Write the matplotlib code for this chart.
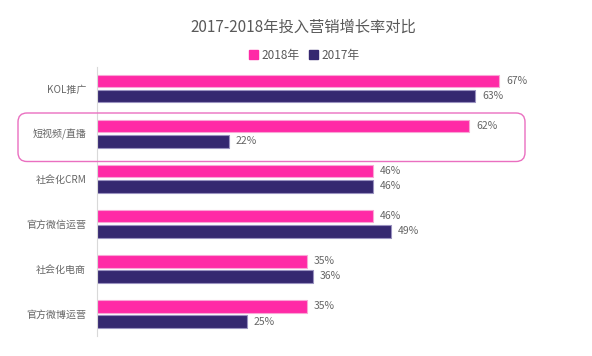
import matplotlib
matplotlib.use("Agg")
import matplotlib.pyplot as plt
from matplotlib.patches import FancyBboxPatch, Patch
import numpy as np

plt.rcParams['font.family'] = ['Noto Sans CJK SC', 'DejaVu Sans']

categories = ["KOL推广", "短视频/直播", "社会化CRM", "官方微信运营", "社会化电商", "官方微博运营"]
v2018 = [67, 62, 46, 46, 35, 35]
v2017 = [63, 22, 46, 49, 36, 25]

pink = "#ff2aa6"
navy = "#352870"

fig = plt.figure(figsize=(5.92, 3.56), dpi=100)
# axis line at x~96px, 6 px per percent
ax = fig.add_axes([96.6/592, 1-336/356, 481/592, 269/356])

y = np.arange(len(categories))
h = 12.5/45
off = 7.6/45
b1 = ax.barh(y - off, v2018, height=h, color=pink, edgecolor="#f9a6d6", linewidth=0.8)
b2 = ax.barh(y + off, v2017, height=h, color=navy, edgecolor="#9a92c0", linewidth=0.8)

for bars, vals in ((b1, v2018), (b2, v2017)):
    for r, v in zip(bars, vals):
        ax.text(r.get_width() + 1.1, r.get_y() + r.get_height()/2, f"{v}%",
                va="center", ha="left", fontsize=7.5, color="#666666")

ax.set_xlim(0, 80)
ax.set_ylim(len(categories) - 0.51, -0.48)
ax.set_yticks(y)
ax.set_yticklabels(categories, fontsize=7.2, color="#666666")
ax.tick_params(axis="y", length=0, pad=7.5)
ax.set_xticks([])
for s in ("top", "right", "bottom"):
    ax.spines[s].set_visible(False)
ax.spines["left"].set_color("#d9d9d9")
ax.spines["left"].set_linewidth(0.8)

# highlight box around 短视频/直播
box = FancyBboxPatch((0.18, 1.945), 5.07, 0.485, boxstyle="round,pad=0,rounding_size=0.09",
                     transform=fig.dpi_scale_trans, fill=False, edgecolor="#ea6fc0",
                     linewidth=1.0)
fig.patches.append(box)

fig.text(303/592, 1-27/356, "2017-2018年投入营销增长率对比", ha="center", va="center",
         fontsize=11, color="#595959")

handles = [Patch(color=pink), Patch(color=navy)]
fig.legend(handles, ["2018年", "2017年"], loc="center", bbox_to_anchor=(304/592, 1-55/356),
           ncol=2, frameon=False, fontsize=8.5, handlelength=0.75, handleheight=0.75,
           handletextpad=0.3, columnspacing=0.8, labelcolor="#595959")

fig.savefig("out.png", dpi=100)
